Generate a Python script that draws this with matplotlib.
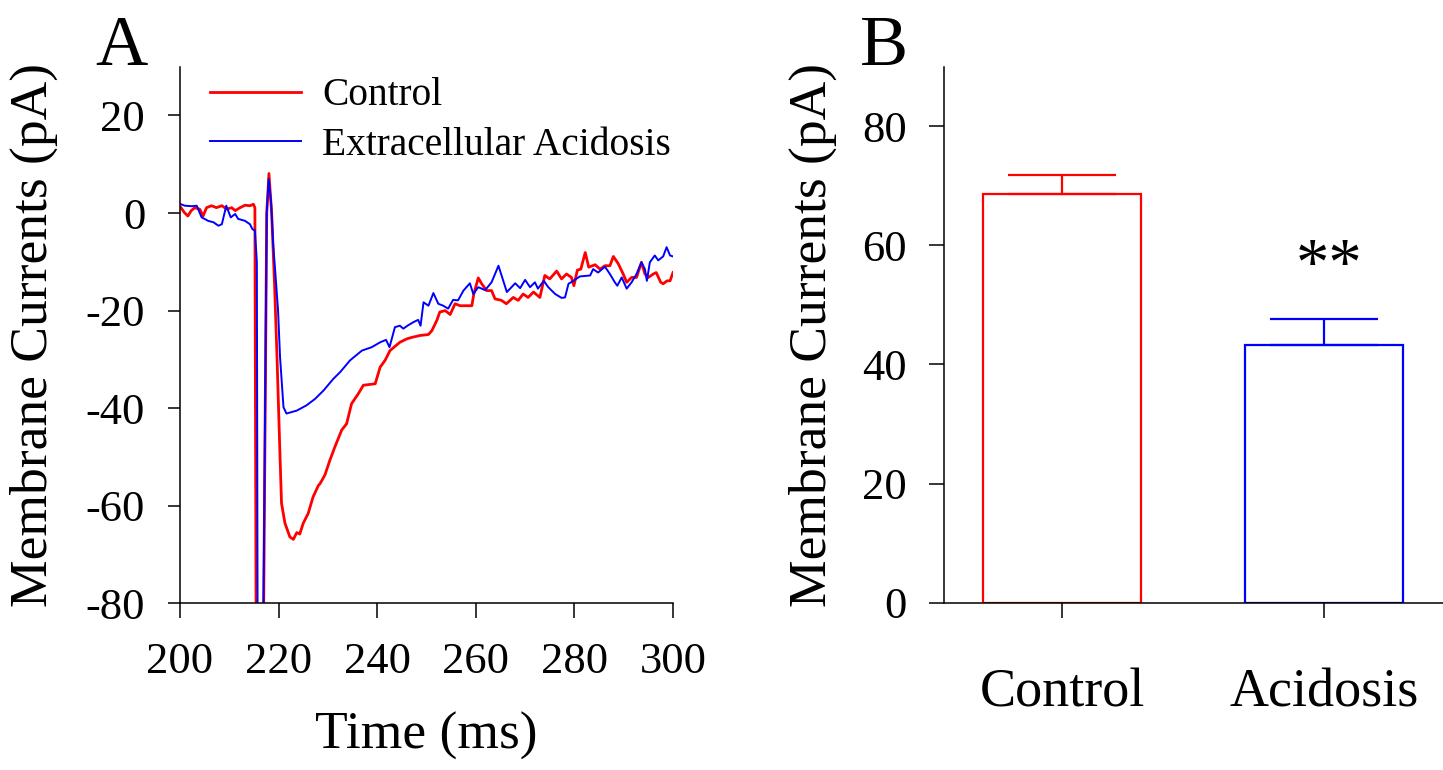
import numpy as np
import matplotlib
matplotlib.use("Agg")
import matplotlib.pyplot as plt

plt.rcParams.update({
    "font.family": "serif",
    "font.serif": ["Liberation Serif", "DejaVu Serif"],
    "axes.unicode_minus": False,
    "axes.linewidth": 1.1,
    "axes.spines.top": False,
    "axes.spines.right": False,
})

RED = "#FF0000"
BLUE = "#0000FF"

# ---- Panel A: membrane current traces (time in ms, current in pA)
ctrl_t = [200.2, 200.9, 201.6, 202.3, 203.0, 204.0, 204.7, 205.4, 206.4, 207.4, 208.5, 209.5,
          210.5, 211.2, 212.2, 213.2, 214.2, 214.9, 215.2, 215.45, 216.95, 217.6, 218.05, 218.6,
          219.2, 219.7, 220.3, 220.6, 221.3, 222.3, 223.0, 223.7, 224.3, 225.0, 226.0, 227.0,
          228.1, 228.4, 229.4, 230.4, 231.4, 232.8, 233.8, 234.8, 236.2, 237.2, 239.6, 240.6,
          241.6, 242.6, 244.6, 246.0, 247.0, 248.7, 250.4, 251.1, 252.1, 252.7, 253.8, 254.8,
          255.8, 256.8, 258.2, 259.2, 259.6, 260.5, 261.2, 262.2, 263.2, 263.9, 265.2, 266.2,
          267.6, 268.6, 269.6, 270.6, 271.7, 273.0, 274.0, 275.0, 276.4, 277.4, 278.4, 279.4,
          279.9, 280.6, 281.3, 282.2, 282.9, 284.2, 285.2, 286.2, 287.2, 287.9, 288.9, 289.9,
          290.6, 291.6, 292.6, 293.6, 294.3, 295.0, 296.0, 296.6, 297.5, 298.0, 298.8, 299.4,
          300.0]
ctrl_i = [1.1, 0.1, -0.6, 0.5, 1.1, 0.8, -0.6, 1.1, 1.5, 1.1, 1.5, 0.8,
          1.1, 0.5, 1.1, 1.6, 1.5, 1.8, 1.1, -85.0, -85.0, 0.0, 8.1, 0.0,
          -15.0, -30.0, -50.0, -59.5, -63.6, -66.4, -66.9, -65.5, -65.8, -63.6, -61.6, -58.2,
          -55.8, -55.5, -53.7, -50.7, -48.0, -44.5, -43.2, -39.1, -37.0, -35.3, -35.0, -31.6,
          -30.2, -28.2, -26.5, -25.8, -25.5, -25.1, -24.9, -24.1, -22.0, -20.3, -20.0, -20.8,
          -18.6, -19.0, -19.0, -19.0, -16.6, -13.3, -14.5, -15.9, -15.9, -17.6, -17.9, -18.6,
          -17.3, -17.9, -16.6, -17.3, -16.2, -17.3, -12.8, -13.5, -11.9, -13.5, -12.5, -13.2,
          -14.9, -11.7, -11.5, -8.1, -11.1, -10.6, -11.5, -10.8, -10.8, -8.9, -10.4, -12.5,
          -14.2, -13.2, -13.2, -10.1, -12.5, -13.2, -12.5, -12.2, -14.2, -14.5, -13.9, -13.9,
          -12.2]

acid_t = [200.2, 201.0, 202.4, 203.4, 204.4, 205.0, 205.7, 206.8, 207.8, 208.5, 209.4, 210.3,
          211.2, 211.8, 213.2, 214.2, 214.7, 215.2, 215.6, 215.75, 216.9, 217.6, 218.0, 218.5,
          218.9, 219.4, 219.9, 220.3, 221.0, 221.6, 223.7, 225.7, 227.4, 229.1, 231.1, 232.5,
          234.5, 236.9, 238.9, 240.6, 241.8, 242.5, 243.6, 244.6, 245.3, 246.3, 247.3, 248.3,
          248.8, 249.4, 250.4, 251.4, 252.4, 253.4, 254.4, 255.4, 256.4, 257.5, 258.8, 259.5,
          260.5, 261.9, 263.2, 264.6, 266.3, 268.0, 269.0, 270.0, 271.0, 272.0, 272.6, 273.8,
          274.7, 276.1, 277.4, 278.1, 278.8, 279.8, 281.1, 283.2, 283.8, 284.8, 286.2, 287.2,
          288.2, 288.7, 289.6, 290.6, 291.6, 292.6, 293.6, 294.3, 294.7, 295.3, 296.3, 297.0,
          298.0, 298.7, 299.4, 300.0]
acid_i = [1.8, 1.5, 1.4, 1.5, -0.9, -1.2, -1.6, -1.9, -2.6, -2.3, 1.5, -0.9,
          -0.2, -1.2, -1.6, -2.3, -3.3, -3.6, -10.0, -85.0, -85.0, 0.0, 7.0, 2.0,
          -6.3, -13.0, -20.0, -29.5, -39.8, -41.1, -40.5, -39.4, -38.1, -36.4, -34.0, -32.6,
          -30.2, -28.2, -27.5, -26.5, -26.0, -27.5, -23.4, -23.1, -23.7, -23.0, -22.4, -21.9,
          -23.1, -18.3, -19.0, -16.4, -18.6, -19.0, -19.6, -17.8, -17.9, -15.9, -14.4, -16.6,
          -15.2, -15.8, -14.2, -10.8, -16.2, -14.4, -15.4, -13.7, -15.2, -14.2, -15.5, -13.9,
          -15.2, -16.6, -17.4, -17.3, -14.5, -13.9, -13.0, -12.8, -11.5, -12.2, -11.0, -12.5,
          -14.2, -14.9, -13.2, -15.5, -14.2, -12.5, -10.1, -11.5, -13.9, -10.1, -8.7, -9.7,
          -8.9, -7.0, -8.7, -8.9]

# ---- Panel B: peak current, mean + SEM
groups = ["Control", "Acidosis"]
means = [68.6, 43.3]
sems = [3.2, 4.3]
bar_colors = [RED, BLUE]

fig = plt.figure(figsize=(14.43, 7.7), dpi=100)

# Panel A
ax = fig.add_axes([0.1247, 0.2165, 0.3417, 0.6969])
ax.plot(ctrl_t, ctrl_i, color=RED, lw=2.0, label="Control")
ax.plot(acid_t, acid_i, color=BLUE, lw=1.4, label="Extracellular Acidosis")
ax.set_xlim(200, 300)
ax.set_ylim(-80, 30)
ax.set_xticks(np.arange(200, 301, 20))
ax.set_yticks(np.arange(-80, 21, 20))
ax.tick_params(axis="y", length=9, width=1.1, labelsize=32, pad=16)
ax.tick_params(axis="x", length=11, width=1.1, labelsize=32, pad=17)
ax.set_xlabel("Time (ms)", fontsize=38.5)
ax.xaxis.set_label_coords(0.5, -0.202)
ax.set_ylabel("Membrane Currents (pA)", fontsize=38.5)
ax.yaxis.set_label_coords(-0.247, 0.5)
ax.legend(loc="upper left", bbox_to_anchor=(0.061, 0.98), frameon=False, fontsize=28.4,
          handlelength=2.3, handletextpad=0.55, labelspacing=0.32,
          borderpad=0, borderaxespad=0)

# Panel B
bx = fig.add_axes([0.6542, 0.2173, 0.3458, 0.6961])
x = np.arange(len(groups))
bx.bar(x, means, width=0.6, facecolor="none", edgecolor=bar_colors, linewidth=1.6)
for xi, m, s, c in zip(x, means, sems, bar_colors):
    bx.errorbar(xi, m, yerr=[[0], [s]], fmt="none", ecolor=c, elinewidth=1.6,
                capsize=39, capthick=1.6)
bx.text(1.02, 53.5, "**", ha="center", va="baseline", fontsize=48)
bx.set_xlim(-0.45, 1.454)
bx.set_ylim(0, 90)
bx.set_xticks(x)
bx.set_xticklabels(groups)
bx.set_yticks(np.arange(0, 81, 20))
bx.tick_params(axis="y", length=11, width=1.1, labelsize=32, pad=16)
bx.tick_params(axis="x", length=11, width=1.1, labelsize=39, pad=36)
bx.set_ylabel("Membrane Currents (pA)", fontsize=38.5)
bx.yaxis.set_label_coords(-0.215, 0.5)

fig.text(0.0658, 0.9156, "A", fontsize=52, ha="left", va="baseline")
fig.text(0.596, 0.9156, "B", fontsize=52, ha="left", va="baseline")

fig.savefig("out.png", dpi=100)
